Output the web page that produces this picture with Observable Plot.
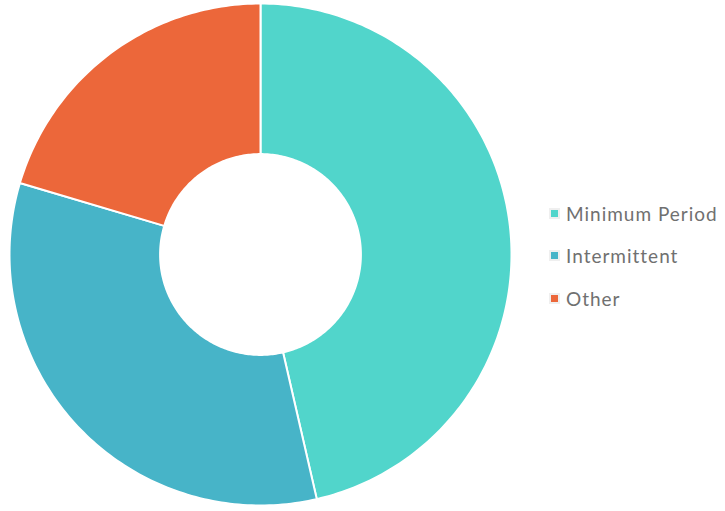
<!DOCTYPE html>
<html>
<head>
<meta charset="utf-8">
<script src="https://cdn.jsdelivr.net/npm/d3@7"></script>
<script src="https://cdn.jsdelivr.net/npm/@observablehq/plot@0.6"></script>
<style>
  html, body { margin: 0; padding: 0; background: #fff; }
  #wrap { position: relative; width: 725px; height: 511px; }
  #legend { position: absolute; left: 549px; top: 192px; font-family: Lato, "Open Sans", sans-serif; font-size: 19px; letter-spacing: 1px; color: #707070; }
  #legend .row { display: flex; align-items: center; height: 42.5px; white-space: nowrap; }
  #legend .sw { width: 7px; height: 7px; border: 2px solid #efefef; margin-right: 6px; flex: none; }
</style>
</head>
<body>
<div id="wrap"><div id="chart"></div><div id="legend"></div></div>
<script>
const categories = ["Minimum Period", "Intermittent", "Other"];
const values = [46.4, 33.2, 20.4];
const colors = ["#51D5CB", "#47B4C8", "#EC673A"];

const innerRatio = 0.4;
const pie = d3.pie().sort(null).value(d => d.value);
const arcs = pie(categories.map((c, i) => ({category: c, value: values[i]})));

// Build ring-segment outlines from the pie angles
const pts = [];
for (const a of arcs) {
  const n = Math.max(2, Math.ceil((a.endAngle - a.startAngle) / (Math.PI / 180)));
  const seg = [];
  for (let k = 0; k <= n; k++) {
    const t = a.startAngle + (a.endAngle - a.startAngle) * k / n;
    seg.push({category: a.data.category, x: Math.sin(t), y: Math.cos(t)});
  }
  for (let k = n; k >= 0; k--) {
    const t = a.startAngle + (a.endAngle - a.startAngle) * k / n;
    seg.push({category: a.data.category, x: innerRatio * Math.sin(t), y: innerRatio * Math.cos(t)});
  }
  pts.push(...seg);
}

const chart = Plot.plot({
  width: 725,
  height: 511,
  margin: 0,
  x: {domain: [-1, 1], range: [9, 511], axis: null},
  y: {domain: [-1, 1], range: [505, 3], axis: null},
  color: {domain: categories, range: colors},
  marks: [
    Plot.line(pts, {x: "x", y: "y", z: "category", fill: "category", stroke: "white", strokeWidth: 2, curve: "linear-closed"})
  ]
});
document.getElementById("chart").appendChild(chart);

const legend = d3.select("#legend");
categories.forEach((c, i) => {
  const row = legend.append("div").attr("class", "row");
  row.append("div").attr("class", "sw").style("background", colors[i]);
  row.append("span").text(c);
});
</script>
</body>
</html>
